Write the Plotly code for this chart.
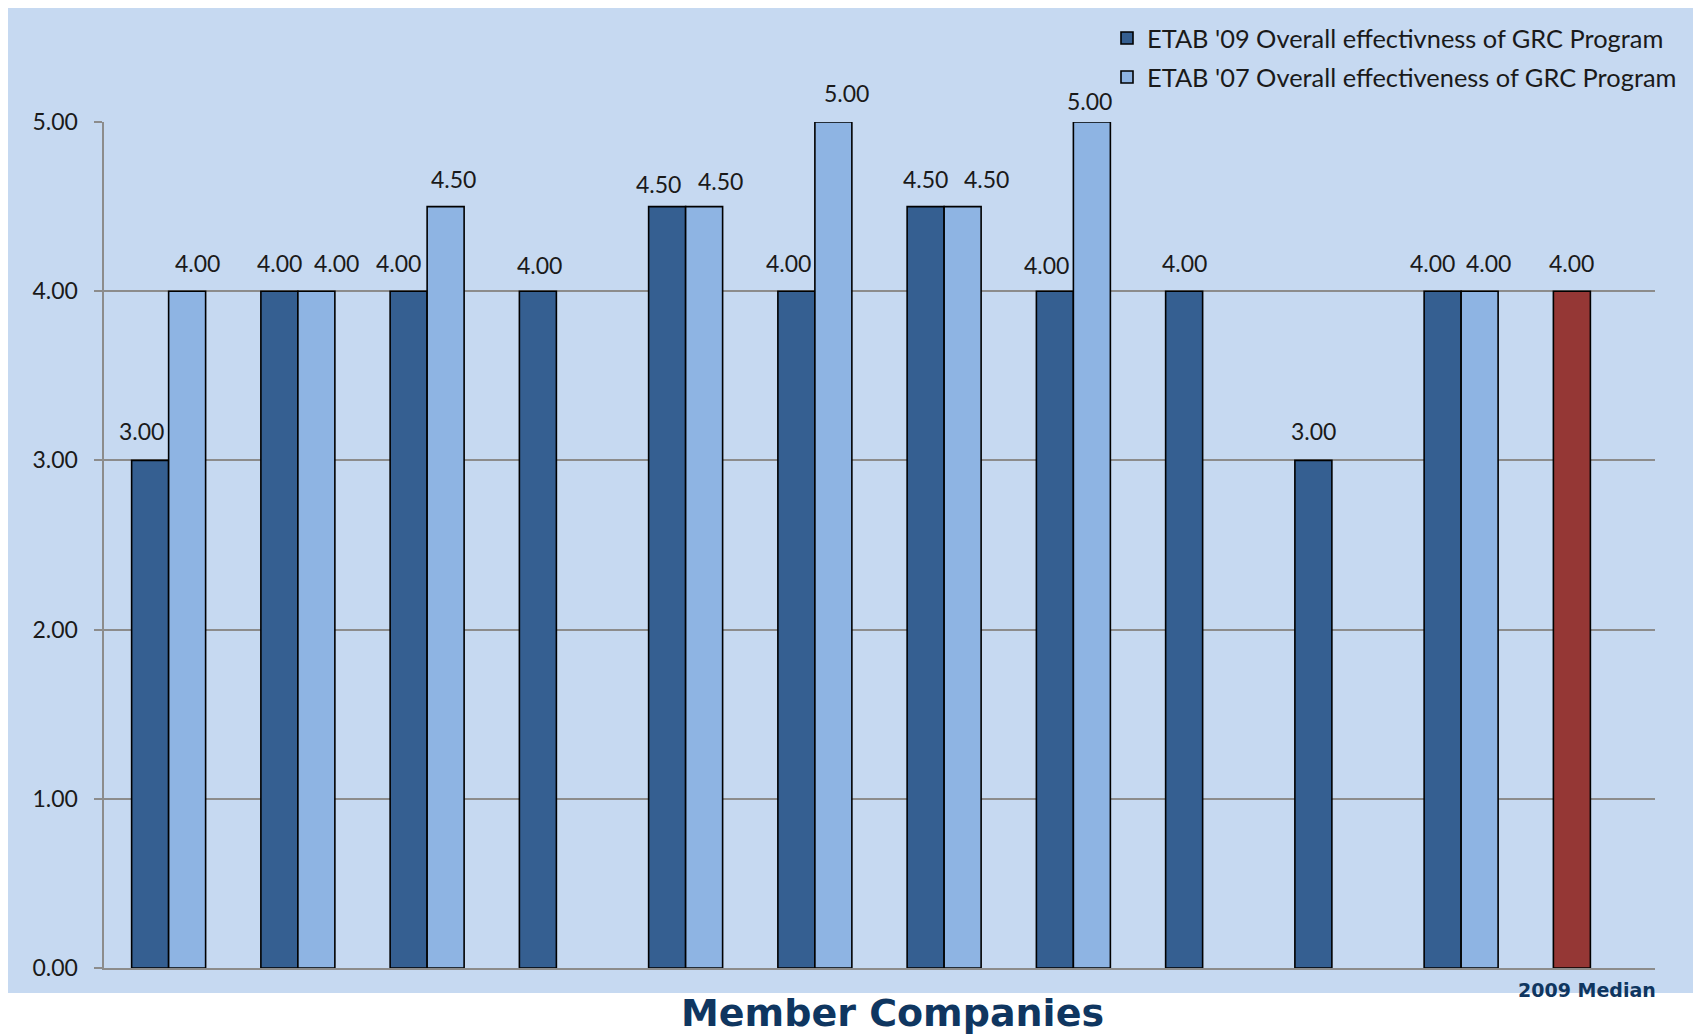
import plotly.graph_objects as go

categories = ["C1", "C2", "C3", "C4", "C5", "C6", "C7", "C8", "C9", "C10", "C11", "2009 Median"]
etab09 = [3.0, 4.0, 4.0, 4.0, 4.5, 4.0, 4.5, 4.0, 4.0, 3.0, 4.0, 4.0]
etab07 = [4.0, 4.0, 4.5, None, 4.5, 5.0, 4.5, 5.0, None, None, 4.0, None]
tick_vals = [0, 1, 2, 3, 4, 5]
tick_text = ["0.00", "1.00", "2.00", "3.00", "4.00", "5.00"]

# label nudges (pixels) relative to each bar's centre, as placed in the original
nudge09_x = [-8.5, 0, -10.5, 2, -8.5, -8, 0, -8, 0, 0, -10, 0]
nudge09_y = [13, 12, 12, 10, 7, 12, 12, 10, 12, 13, 12, 12]
nudge07_x = [10, 20.5, 7.5, 0, 16, 13.5, 24, -2, 0, 0, 9, 0]
nudge07_y = [12, 12, 12, 0, 10, 13, 12, 5, 0, 0, 12, 0]

DARK = "#355F91"
LIGHT = "#8EB4E3"
RED = "#953735"
BG = "#C6D9F1"
GRID = "#8C8C8C"
NAVY = "#0F3660"
FONT = "Lato, Open Sans, sans-serif"

W, H = 1701, 1036
L, R, T, B = 96, 54, 114, 76
pw, ph = W - L - R, H - T - B

dark_colors = [DARK] * (len(categories) - 1) + [RED]

fig = go.Figure()
fig.add_trace(go.Bar(
    x=categories, y=etab09, name="ETAB '09 Overall effectivness of GRC Program",
    marker=dict(color=dark_colors, line=dict(color="black", width=1.6)),
    legendgroup="a", cliponaxis=False,
))
fig.add_trace(go.Bar(
    x=categories, y=etab07, name="ETAB '07 Overall effectiveness of GRC Program",
    marker=dict(color=LIGHT, line=dict(color="black", width=1.6)),
    legendgroup="b", cliponaxis=False,
))

half = 18.5
for i, c in enumerate(categories):
    for vals, base, nx, ny in ((etab09, -half, nudge09_x, nudge09_y), (etab07, half, nudge07_x, nudge07_y)):
        v = vals[i]
        if v is None:
            continue
        fig.add_annotation(x=c, y=v, xref="x", yref="y", text=f"{v:.2f}",
                           showarrow=False, xshift=base + nx[i], yshift=ny[i], yanchor="bottom",
                           font=dict(family=FONT, size=23, color="#1a1a1a"))

# light blue panel
fig.add_shape(type="rect", xref="paper", yref="paper",
              x0=(0 - L) / pw, x1=(1689 - L) / pw,
              y0=(H - B - 985) / ph, y1=(H - B - 0) / ph,
              fillcolor=BG, line=dict(width=0), layer="below")

fig.add_annotation(x=(884 - L) / pw, y=(H - B - 1005) / ph, xref="paper", yref="paper",
                   text="<b>Member Companies</b>", showarrow=False, xanchor="center", yanchor="middle",
                   font=dict(family="DejaVu Sans", size=38, color=NAVY))
fig.add_annotation(x=(1650 - L) / pw, y=(H - B - 982) / ph, xref="paper", yref="paper",
                   text="<b>2009 Median</b>", showarrow=False, xanchor="right", yanchor="middle",
                   font=dict(family="DejaVu Sans", size=19, color=NAVY))

fig.update_layout(
    width=W, height=H,
    margin=dict(l=L, r=R, t=T, b=B, autoexpand=False),
    paper_bgcolor="white", plot_bgcolor="rgba(0,0,0,0)",
    barmode="group", bargap=0.4275, bargroupgap=0,
    font=dict(family=FONT, size=23, color="#1a1a1a"),
    legend=dict(x=(1099 - L) / pw, y=(H - B - 7) / ph, xanchor="left", yanchor="top",
                bgcolor="rgba(0,0,0,0)", font=dict(family=FONT, size=25.4, color="#1a1a1a"),
                traceorder="grouped", tracegroupgap=3),
    xaxis=dict(showticklabels=False, showgrid=False, showline=True, linecolor=GRID, linewidth=2,
               ticks="", zeroline=False),
    yaxis=dict(range=[0, 5], tickvals=tick_vals, ticktext=[t + "\u2002" for t in tick_text],
               showgrid=True, gridcolor=GRID, gridwidth=1.5, showline=True, linecolor=GRID, linewidth=2,
               ticks="outside", ticklen=8, tickcolor=GRID, tickwidth=2, zeroline=False,
               tickfont=dict(family=FONT, size=23, color="#1a1a1a")),
)

fig.write_html("out.html")
